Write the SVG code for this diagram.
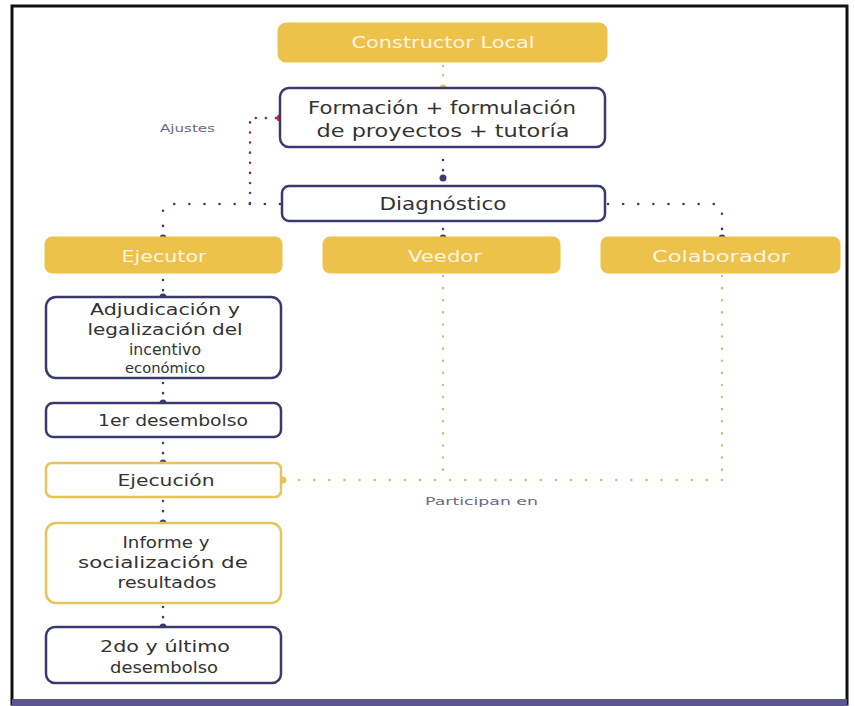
<svg xmlns="http://www.w3.org/2000/svg" width="855" height="706" viewBox="0 0 855 706">
<defs>
<style>
.frame{fill:#ffffff;stroke:#111;stroke-width:3}
.yb{fill:#EDC24A;stroke:#EDC24A;stroke-width:1}
.nb{fill:#ffffff;stroke:#3b3970;stroke-width:2.5}
.ybo{fill:#ffffff;stroke:#E6C45A;stroke-width:2.5}
.wt{font-family:"DejaVu Sans","Liberation Sans",sans-serif;fill:#fbf5e4;font-size:16px;text-anchor:middle}
.dt{font-family:"DejaVu Sans","Liberation Sans",sans-serif;fill:#333333;font-size:16px;text-anchor:middle}
.lc{font-size:15px}
.lbl{font-family:"DejaVu Sans","Liberation Sans",sans-serif;fill:#6a6a86;font-size:11px}
.dn{fill:none;stroke:#3f3a75;stroke-width:2.5;stroke-linecap:round;stroke-dasharray:0.1 15}
.dnv{fill:none;stroke:#3f3a75;stroke-width:2.5;stroke-linecap:round;stroke-dasharray:0.1 10}
.dy{fill:none;stroke:#c9bf8a;stroke-width:2.5;stroke-linecap:round;stroke-dasharray:0.1 15}
.dyv{fill:none;stroke:#c9bf8a;stroke-width:2.5;stroke-linecap:round;stroke-dasharray:0.1 12}
.dr{fill:none;stroke:#8b2a4a;stroke-width:2.5;stroke-linecap:round;stroke-dasharray:0.1 10}
.pd{fill:#3f3a75}
.yd{fill:#E6C45A}
.rd{fill:#d7263d}
</style>
</defs>
<rect x="0" y="0" width="855" height="706" fill="#ffffff"/>
<rect class="frame" x="12" y="6" width="835" height="698"/>
<rect x="12" y="699" width="835" height="7" fill="#5b5691"/>

<g id="connectors">
  <path class="dy" d="M443 66 V84" style="stroke-dasharray:0.1 9"/>
  <circle class="yd" cx="443" cy="88" r="3.5"/>
  <path class="dnv" d="M443 160 V172"/>
  <circle class="pd" cx="443" cy="178" r="3.5"/>
  <path class="dr" d="M276 118 H250 V204"/>
  <circle class="rd" cx="280" cy="118" r="3.5"/>
  <path class="dn" d="M280 204 H170 Q163 204 163 211 V234"/>
  <circle class="pd" cx="163" cy="238" r="3.5"/>
  <path class="dnv" d="M443 229 V232"/>
  <circle class="pd" cx="443" cy="238" r="3.5"/>
  <path class="dn" d="M608 204 H715 Q722 204 722 211 V234"/>
  <circle class="pd" cx="722" cy="238" r="3.5"/>
  <path class="dnv" d="M163 280 V291"/>
  <circle class="pd" cx="163" cy="297" r="3.5"/>
  <path class="dnv" d="M163 383 V395"/>
  <circle class="pd" cx="163" cy="403" r="3.5"/>
  <path class="dnv" d="M163 443 V455"/>
  <circle cx="163" cy="463" r="3.5" fill="#5a3f7a"/>
  <path class="dnv" d="M163 501 V513"/>
  <circle class="pd" cx="163" cy="523" r="3.5"/>
  <path class="dnv" d="M163 607 V619"/>
  <circle class="pd" cx="163" cy="627" r="3.5"/>
  <path class="dyv" d="M443 276 V480"/>
  <path class="dyv" d="M722 276 V480"/>
  <path class="dy" d="M722 480 H286"/>
  <circle class="yd" cx="283" cy="480" r="3.5"/>
  <text class="lbl" x="425" y="505" textLength="113" lengthAdjust="spacingAndGlyphs">Participan en</text>
  <text class="lbl" x="160" y="132" textLength="55" lengthAdjust="spacingAndGlyphs">Ajustes</text>
</g>

<g id="constructor-local">
  <rect class="yb" x="278" y="23" width="329" height="39" rx="8"/>
  <text class="wt" x="443" y="48" textLength="183" lengthAdjust="spacingAndGlyphs">Constructor Local</text>
</g>
<g id="formacion">
  <rect class="nb" x="280" y="88" width="325" height="59" rx="9"/>
  <text class="dt" x="442" y="114" style="font-size:17px" textLength="268" lengthAdjust="spacingAndGlyphs">Formación + formulación</text>
  <text class="dt" x="443" y="137" style="font-size:17px" textLength="253" lengthAdjust="spacingAndGlyphs">de proyectos + tutoría</text>
</g>
<g id="diagnostico">
  <rect class="nb" x="282" y="186" width="323" height="35" rx="7"/>
  <text class="dt" x="443" y="210" style="font-size:17px" textLength="127" lengthAdjust="spacingAndGlyphs">Diagnóstico</text>
</g>
<g id="ejecutor">
  <rect class="yb" x="45" y="237" width="237" height="36" rx="7"/>
  <text class="wt" x="164" y="262" textLength="85" lengthAdjust="spacingAndGlyphs">Ejecutor</text>
</g>
<g id="veedor">
  <rect class="yb" x="323" y="237" width="237" height="36" rx="7"/>
  <text class="wt" x="445" y="262" textLength="74" lengthAdjust="spacingAndGlyphs">Veedor</text>
</g>
<g id="colaborador">
  <rect class="yb" x="601" y="237" width="239" height="36" rx="7"/>
  <text class="wt" x="721" y="262" textLength="138" lengthAdjust="spacingAndGlyphs">Colaborador</text>
</g>
<g id="adjudicacion">
  <rect class="nb" x="46" y="297" width="235" height="81" rx="10"/>
  <text class="dt lc" x="165" y="315" textLength="150" lengthAdjust="spacingAndGlyphs">Adjudicación y</text>
  <text class="dt lc" x="165" y="335" textLength="155" lengthAdjust="spacingAndGlyphs">legalización del</text>
  <text class="dt lc" x="165" y="355" textLength="72" lengthAdjust="spacingAndGlyphs">incentivo</text>
  <text class="dt" x="165" y="373" style="font-size:14px" textLength="80" lengthAdjust="spacingAndGlyphs">económico</text>
</g>
<g id="primer-desembolso">
  <rect class="nb" x="46" y="403" width="235" height="34" rx="7"/>
  <text class="dt" x="173" y="426" textLength="150" lengthAdjust="spacingAndGlyphs">1er desembolso</text>
</g>
<g id="ejecucion">
  <rect class="ybo" x="46" y="463" width="235" height="34" rx="6"/>
  <text class="dt" x="166" y="486" textLength="97" lengthAdjust="spacingAndGlyphs">Ejecución</text>
</g>
<g id="informe">
  <rect class="ybo" x="46" y="523" width="235" height="80" rx="10"/>
  <text class="dt lc" x="166" y="548" textLength="87" lengthAdjust="spacingAndGlyphs">Informe y</text>
  <text class="dt lc" x="163" y="568" textLength="170" lengthAdjust="spacingAndGlyphs">socialización de</text>
  <text class="dt lc" x="167" y="588" textLength="99" lengthAdjust="spacingAndGlyphs">resultados</text>
</g>
<g id="segundo-desembolso">
  <rect class="nb" x="46" y="627" width="235" height="56" rx="9"/>
  <text class="dt lc" x="165" y="652" textLength="130" lengthAdjust="spacingAndGlyphs">2do y último</text>
  <text class="dt lc" x="164" y="673" textLength="108" lengthAdjust="spacingAndGlyphs">desembolso</text>
</g>
</svg>
